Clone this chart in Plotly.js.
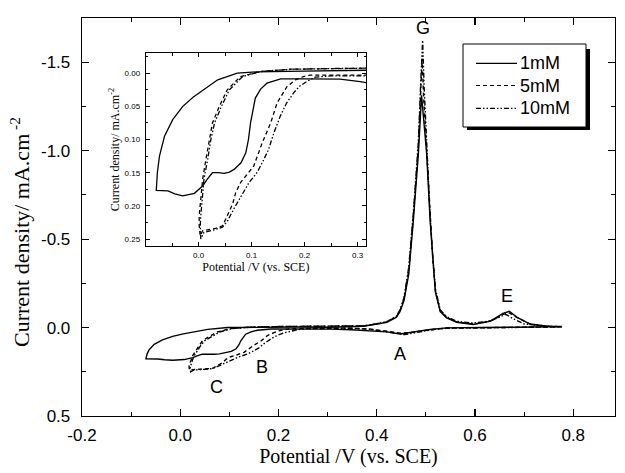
<!DOCTYPE html>
<html>
<head>
<meta charset="utf-8">
<script src="https://cdn.plot.ly/plotly-3.0.1.min.js"></script>
<style>html,body{margin:0;padding:0;background:#fff;}#chart{width:625px;height:473px;}</style>
</head>
<body>
<div id="chart"></div>
<script>
// ---- data (potential V vs. SCE, current density mA/cm^2) ----
const seriesNames = ["1mM", "5mM", "10mM"];

// main panel
const x1 = [0.7766,0.7462,0.6898,0.6138,0.5422,0.5086,0.4745,0.4478,0.4203,0.3859,0.348,0.3067,0.234,0.1852,0.157,0.144,0.1331,0.1233,0.119,0.1136,0.1038,0.0897,0.0799,0.0691,0.0571,0.0452,0.0344,0.0251,0.0083,-0.0156,-0.0318,-0.0459,-0.0698,
  -0.0687,-0.0676,-0.0633,-0.053,-0.0362,-0.0156,0.0061,0.0284,0.0561,0.0962,0.1364,0.234,0.3046,0.3729,0.4066,0.4207,0.4402,0.4473,0.4554,0.4651,0.4745,0.4847,0.4912,0.5017,0.5086,0.514,0.5194,0.5292,0.5422,0.5628,0.5964,0.6301,0.6442,0.6572,0.6699,0.685,0.712,0.7462,0.7766];
const y1 = [-0.006,-0.004,-0.002,0.0,0.002,0.0113,0.0245,0.036,0.0245,0.017,0.0126,0.009,0.0085,0.0085,0.015,0.024,0.0375,0.075,0.10,0.12,0.135,0.145,0.149,0.151,0.150,0.150,0.16,0.170,0.181,0.185,0.182,0.1775,0.1765,
  0.16,0.15,0.125,0.095,0.07,0.05,0.036,0.025,0.01,0.0,-0.002,-0.003,-0.002,-0.0075,-0.0226,-0.03,-0.059,-0.09,-0.153,-0.3,-0.606,-0.98,-1.313,-0.98,-0.606,-0.38,-0.2,-0.09,-0.055,-0.03,-0.017,-0.035,-0.059,-0.08,-0.092,-0.059,-0.02,-0.0075,-0.006];

const x5 = [0.7766,0.6898,0.6138,0.5422,0.5086,0.4782,0.451,0.4239,0.3859,0.3425,0.2883,0.2449,0.2318,0.2156,0.1982,0.1776,0.1646,0.1472,0.1298,0.1147,0.1027,0.093,0.0864,0.0756,0.0658,0.0517,0.0251,0.0203,
  0.0181,0.0181,0.0219,0.0251,0.0319,0.0387,0.0452,0.0593,0.0756,0.1027,0.144,0.2047,0.2883,0.348,0.3751,0.4066,0.4207,0.4402,0.4473,0.4554,0.4651,0.4745,0.4847,0.489,0.4923,0.4955,0.5017,0.5086,0.514,0.5194,0.5292,0.5422,0.5628,0.5964,0.6301,0.6442,0.6572,0.668,0.685,0.712,0.7462,0.7766];
const y5 = [-0.004,-0.002,0.0,0.003,0.012,0.025,0.032,0.022,0.008,0.003,0.0026,0.003,0.005,0.01,0.02,0.045,0.075,0.105,0.14,0.155,0.165,0.18,0.1975,0.215,0.23,0.234,0.2375,0.245,
  0.23,0.215,0.19,0.16,0.13,0.10,0.075,0.05,0.025,0.005,-0.0025,-0.006,-0.007,-0.007,-0.01,-0.024,-0.032,-0.062,-0.095,-0.16,-0.32,-0.63,-1.02,-1.3,-1.52,-1.3,-1.0,-0.62,-0.39,-0.21,-0.095,-0.058,-0.032,-0.02,-0.035,-0.055,-0.075,-0.085,-0.058,-0.02,-0.008,-0.004];

const x10 = [0.7766,0.6898,0.6138,0.5422,0.5086,0.4782,0.4565,0.4293,0.3859,0.3425,0.2883,0.2557,0.2384,0.2232,0.2112,0.1971,0.1841,0.1711,0.1602,0.1472,0.1364,0.1201,0.1038,0.0886,0.0767,0.0658,0.0496,0.0279,0.0213,
  0.0203,0.0213,0.0246,0.0279,0.0354,0.042,0.0496,0.0637,0.0799,0.1071,0.1472,0.2123,0.2883,0.348,0.3751,0.4066,0.4207,0.4402,0.4473,0.4554,0.4651,0.4745,0.4847,0.489,0.4934,0.4966,0.5017,0.5086,0.514,0.5194,0.5292,0.5422,0.5628,0.5964,0.6247,0.6377,0.6507,0.6626,0.6778,0.7006,0.7462,0.7766];
const y10 = [-0.004,-0.002,0.0,0.004,0.014,0.03,0.04,0.028,0.01,0.004,0.004,0.006,0.0126,0.02,0.03,0.045,0.065,0.09,0.115,0.135,0.15,0.165,0.185,0.205,0.222,0.232,0.236,0.24,0.25,
  0.23,0.215,0.19,0.16,0.13,0.10,0.075,0.05,0.025,0.005,-0.003,-0.006,-0.007,-0.007,-0.01,-0.025,-0.034,-0.065,-0.1,-0.17,-0.34,-0.65,-1.05,-1.35,-1.624,-1.35,-1.02,-0.63,-0.4,-0.22,-0.1,-0.062,-0.035,-0.025,-0.035,-0.045,-0.06,-0.075,-0.05,-0.02,-0.008,-0.004];

// inset panel (low-potential region)
const ix1 = [0.36,0.34,0.305,0.267,0.20,0.155,0.129,0.117,0.107,0.098,0.094,0.089,0.08,0.067,0.058,0.048,0.037,0.026,0.016,0.0075,-0.008,-0.03,-0.045,-0.058,-0.08,
  -0.079,-0.078,-0.074,-0.0645,-0.049,-0.03,-0.01,0.0105,0.036,0.073,0.11,0.2,0.28,0.36];
const iy1 = [0.022,0.018,0.0126,0.009,0.0085,0.0085,0.015,0.024,0.0375,0.075,0.10,0.12,0.135,0.145,0.149,0.151,0.150,0.150,0.16,0.170,0.181,0.185,0.182,0.1775,0.1765,
  0.16,0.15,0.125,0.095,0.07,0.05,0.036,0.025,0.01,0.0,-0.002,-0.003,-0.004,-0.005];
const ix5 = [0.36,0.30,0.25,0.21,0.198,0.183,0.167,0.148,0.136,0.12,0.104,0.09,0.079,0.07,0.064,0.054,0.045,0.032,0.0075,0.003,
  0.001,0.001,0.0045,0.0075,0.0137,0.02,0.026,0.039,0.054,0.079,0.117,0.173,0.25,0.305,0.36];
const iy5 = [0.003,0.003,0.0026,0.003,0.005,0.01,0.02,0.045,0.075,0.105,0.14,0.155,0.165,0.18,0.1975,0.215,0.23,0.234,0.2375,0.245,
  0.23,0.215,0.19,0.16,0.13,0.10,0.075,0.05,0.025,0.005,-0.0025,-0.006,-0.007,-0.007,-0.008];
const ix10 = [0.36,0.30,0.25,0.22,0.204,0.19,0.179,0.166,0.154,0.142,0.132,0.12,0.11,0.095,0.08,0.066,0.055,0.045,0.03,0.01,0.004,
  0.003,0.004,0.007,0.01,0.017,0.023,0.03,0.043,0.058,0.083,0.12,0.18,0.25,0.305,0.36];
const iy10 = [0.004,0.004,0.004,0.006,0.0126,0.02,0.03,0.045,0.065,0.09,0.115,0.135,0.15,0.165,0.185,0.205,0.222,0.232,0.236,0.24,0.25,
  0.23,0.215,0.19,0.16,0.13,0.10,0.075,0.05,0.025,0.005,-0.003,-0.006,-0.007,-0.007,-0.008];

const xTickVals = [-0.2,0.0,0.2,0.4,0.6,0.8];
const xTickText = ["-0.2","0.0","0.2","0.4","0.6","0.8"];
const yTickVals = [-1.5,-1.0,-0.5,0.0,0.5];
const yTickText = ["-1.5","-1.0","-0.5","0.0","0.5"];
const insetXTickVals = [0.0,0.1,0.2,0.3];
const insetXTickText = ["0.0","0.1","0.2","0.3"];
const insetYTickVals = [0.00,0.05,0.10,0.15,0.20,0.25];
const insetYTickText = ["0.00","0.05","0.10","0.15","0.20","0.25"];

const peakLabels = ["G","E","A","B","C"];
const peakX = [0.4942,0.6652,0.4474,0.1658,0.0742];
const peakY = [-1.692,-0.181,0.147,0.225,0.338];

// ---- styling ----
const dashes = ["solid", "4px,3px", "5px,2px,1.5px,2px,1.5px,2px"];
const mxs = [x1, x5, x10], mys = [y1, y5, y10];
const ixs = [ix1, ix5, ix10], iys = [iy1, iy5, iy10];
const traces = [];
for (let i = 0; i < 3; i++) {
  traces.push({x: mxs[i], y: mys[i], type: "scatter", mode: "lines", name: seriesNames[i],
    line: {color: "#000", width: 1.4, dash: dashes[i]}, showlegend: false, xaxis: "x", yaxis: "y", hoverinfo: "skip"});
  traces.push({x: ixs[i], y: iys[i], type: "scatter", mode: "lines", name: seriesNames[i],
    line: {color: "#000", width: 1.3, dash: dashes[i]}, showlegend: false, xaxis: "x2", yaxis: "y2", hoverinfo: "skip"});
}

const W = 625, H = 473, L = 82, R = 10, T = 18, B = 57;
const pw = W - L - R, ph = H - T - B;
const px = v => (v - L) / pw;
const py = v => (H - B - v) / ph;

const sans = "Liberation Sans, Arial, sans-serif";
const serif = "Liberation Serif, Times New Roman, serif";

const shapes = [
  {type: "rect", xref: "paper", yref: "paper", x0: px(467), x1: px(590), y0: py(130), y1: py(49), fillcolor: "#000", line: {width: 0}, layer: "above"},
  {type: "rect", xref: "paper", yref: "paper", x0: px(463), x1: px(586), y0: py(127), y1: py(44), fillcolor: "#fff", line: {color: "#000", width: 1}, layer: "above"}
];
const legRows = [63.3, 85.5, 108.3];
const annotations = [];
for (let i = 0; i < 3; i++) {
  shapes.push({type: "line", xref: "paper", yref: "paper", x0: px(476), x1: px(517), y0: py(legRows[i]), y1: py(legRows[i]),
    line: {color: "#000", width: 1.2, dash: dashes[i]}, layer: "above"});
  annotations.push({xref: "paper", yref: "paper", x: px(518), y: py(legRows[i]), xanchor: "left", yanchor: "middle",
    text: seriesNames[i], showarrow: false, font: {family: sans, size: 18, color: "#000"}});
}
for (let i = 0; i < peakLabels.length; i++) {
  annotations.push({xref: "x", yref: "y", x: peakX[i], y: peakY[i], text: peakLabels[i], showarrow: false,
    font: {family: sans, size: 18, color: "#000"}});
}
// main y-axis title
annotations.push({xref: "paper", yref: "paper", x: px(20), y: py(232), xanchor: "center", yanchor: "middle", textangle: -90,
  text: "Current density/ mA.cm<sup> -2</sup>", showarrow: false, font: {family: serif, size: 22, color: "#000"}});

const layout = {
  width: W, height: H,
  margin: {l: L, r: R, t: T, b: B},
  paper_bgcolor: "#fff", plot_bgcolor: "#fff",
  showlegend: false,
  xaxis: {domain: [0, 1], range: [-0.2, 0.885], tickvals: xTickVals, ticktext: xTickText,
    ticks: "inside", ticklen: 7, tickwidth: 1.2, tickcolor: "#000", mirror: "allticks",
    showline: true, linecolor: "#000", linewidth: 1.3, showgrid: false, zeroline: false,
    minor: {ticks: "inside", dtick: 0.1, tick0: 0, ticklen: 4, tickwidth: 1.2, tickcolor: "#000"},
    tickfont: {family: sans, size: 17, color: "#000"}, ticklabelstandoff: 3,
    title: {text: "Potential /V (vs. SCE)", font: {family: serif, size: 20, color: "#000"}, standoff: 5}},
  yaxis: {domain: [0, 1], range: [0.5, -1.75], tickvals: yTickVals, ticktext: yTickText,
    ticks: "inside", ticklen: 7, tickwidth: 1.2, tickcolor: "#000", mirror: "allticks",
    showline: true, linecolor: "#000", linewidth: 1.3, showgrid: false, zeroline: false,
    minor: {ticks: "inside", dtick: 0.25, tick0: 0, ticklen: 4, tickwidth: 1.2, tickcolor: "#000"},
    tickfont: {family: sans, size: 17, color: "#000"}, ticklabelstandoff: 7},
  xaxis2: {domain: [px(145.7), px(366)], anchor: "y2", range: [-0.1, 0.316], tickvals: insetXTickVals, ticktext: insetXTickText,
    ticks: "inside", ticklen: 4, tickwidth: 1, tickcolor: "#000", mirror: "allticks",
    showline: true, linecolor: "#000", linewidth: 1, showgrid: false, zeroline: false,
    minor: {ticks: "inside", dtick: 0.05, tick0: 0, ticklen: 2.5, tickwidth: 1, tickcolor: "#000"},
    tickfont: {family: sans, size: 8, color: "#000"}, ticklabelstandoff: 2,
    title: {text: "Potential /V (vs. SCE)", font: {family: serif, size: 12, color: "#000"}, standoff: 1}},
  yaxis2: {domain: [py(245.7), py(53.3)], anchor: "x2", range: [0.26, -0.03], tickvals: insetYTickVals, ticktext: insetYTickText,
    ticks: "inside", ticklen: 4, tickwidth: 1, tickcolor: "#000", mirror: "allticks",
    showline: true, linecolor: "#000", linewidth: 1, showgrid: false, zeroline: false,
    minor: {ticks: "inside", dtick: 0.025, tick0: 0, ticklen: 2.5, tickwidth: 1, tickcolor: "#000"},
    tickfont: {family: sans, size: 8, color: "#000"}, ticklabelstandoff: 3,
    title: {text: "Current density/ mA.cm<sup>-2</sup>", font: {family: serif, size: 12, color: "#000"}, standoff: 2}},
  shapes: shapes,
  annotations: annotations
};

Plotly.newPlot("chart", traces, layout, {staticPlot: true, displayModeBar: false});
</script>
</body>
</html>
